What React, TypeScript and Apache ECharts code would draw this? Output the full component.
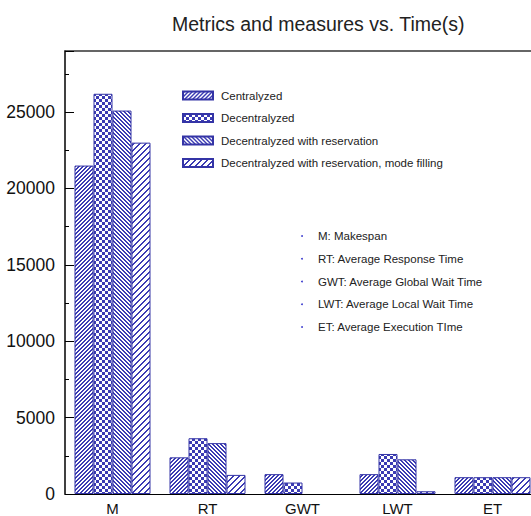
import React, { useEffect, useRef } from "react";
import * as echarts from "echarts";

const categories = ["M", "RT", "GWT", "LWT", "ET"];
const seriesNames = [
  "Centralyzed",
  "Decentralyzed",
  "Decentralyzed with reservation",
  "Decentralyzed with reservation, mode filling",
];
const centralized = [21500, 2400, 1300, 1300, 1100];
const decentralized = [26200, 3650, 750, 2620, 1100];
const reservation = [25100, 3330, 0, 2270, 1100];
const modeFilling = [23000, 1250, 0, 180, 1100];
const seriesValues = [centralized, decentralized, reservation, modeFilling];
const notes = [
  "M: Makespan",
  "RT: Average Response Time",
  "GWT: Average Global Wait Time",
  "LWT: Average Local Wait Time",
  "ET: Average Execution TIme",
];
const yMax = 29000;

const BLUE = "#3b3bb3";
const FONT = "'Liberation Sans', Arial, sans-serif";

function makePattern(kind: string) {
  const s = kind === "wide" || kind === "check" ? 6 : 4;
  const c = document.createElement("canvas");
  c.width = s;
  c.height = s;
  const ctx = c.getContext("2d")!;
  ctx.fillStyle = "#ffffff";
  ctx.fillRect(0, 0, s, s);
  ctx.fillStyle = BLUE;
  for (let x = 0; x < s; x++) {
    for (let y = 0; y < s; y++) {
      let on = false;
      if (kind === "fwd") on = (x + y) % 4 <= 1;
      else if (kind === "back") on = (x - y + 8) % 4 <= 1;
      else if (kind === "wide") on = (x + y) % 6 <= 1;
      else if (kind === "check") on = (Math.floor(x / 3) + Math.floor(y / 3)) % 2 === 0;
      if (on) ctx.fillRect(x, y, 1, 1);
    }
  }
  return {
    image: c.toDataURL(),
    repeat: "repeat",
    imageWidth: s,
    imageHeight: s,
  } as any;
}

export default function App() {
  const ref = useRef<HTMLDivElement>(null);
  useEffect(() => {
    if (!ref.current) return;
    const chart = echarts.init(ref.current, null, { renderer: "svg" });
    const kinds = ["fwd", "check", "back", "wide"];
    const patterns = kinds.map(makePattern);
    const noteRows = 22.75;
    const graphics: any[] = [];
    notes.forEach((n, i) => {
      const y = 236 + i * noteRows;
      graphics.push({
        type: "circle",
        shape: { cx: 302, cy: y, r: 0.9 },
        style: { fill: "#3333cc" },
      });
      graphics.push({
        type: "text",
        x: 318,
        y,
        style: {
          text: n,
          fontSize: 11.5,
          fontFamily: FONT,
          fill: "#222",
          verticalAlign: "middle",
        },
      });
    });
    const option: any = {
      animation: false,
      backgroundColor: "#ffffff",
      title: {
        text: "Metrics and measures vs. Time(s)",
        left: 167,
        top: 9,
        textStyle: { fontSize: 19.5, fontWeight: "normal", color: "#222", fontFamily: FONT },
      },
      legend: {
        orient: "vertical",
        left: 177,
        top: 84,
        itemWidth: 30,
        itemHeight: 8,
        itemGap: 9.5,
        icon: "rect",
        data: seriesNames,
        textStyle: { fontSize: 11.5, color: "#222", fontFamily: FONT, padding: [0, 0, 0, 3], lineHeight: 13 },
      },
      grid: { left: 65, top: 51, width: 475, height: 445 },
      xAxis: [
        {
          type: "category",
          data: categories,
          axisLine: { lineStyle: { color: "#000", width: 1 } },
          axisTick: { inside: true, length: 9, lineStyle: { color: "#000" } },
          axisLabel: { fontSize: 15, color: "#111", fontFamily: FONT, margin: 7 },
        },
        {
          type: "category",
          data: categories,
          position: "top",
          axisLine: { onZero: false, lineStyle: { color: "#333", width: 1.5 } },
          axisTick: { show: false },
          axisLabel: { show: false },
        },
      ],
      yAxis: [
        {
          type: "value",
          min: 0,
          max: yMax,
          interval: 5000,
          position: "left",
          axisLine: { show: true, lineStyle: { color: "#000", width: 1.5 } },
          axisTick: { show: true, inside: true, length: 9, lineStyle: { color: "#000" } },
          axisLabel: {
            fontSize: 17.5,
            color: "#111",
            fontFamily: FONT,
            margin: 10,
            formatter: (v: number) => (v % 5000 === 0 ? String(v) : ""),
          },
          splitLine: { show: false },
        },
        {
          type: "value",
          min: 0,
          max: yMax,
          interval: 2500,
          position: "left",
          axisLine: { show: false },
          axisTick: { show: true, inside: true, length: 4, lineStyle: { color: "#000" } },
          axisLabel: { show: false },
          splitLine: { show: false },
        },
      ],
      series: seriesNames.map((name, i) => ({
        name,
        type: "bar",
        data: seriesValues[i].map((v) => (v === 0 ? null : v)),
        barGap: "0%",
        barCategoryGap: "20%",
        itemStyle: { color: patterns[i], borderColor: "#3434a6", borderWidth: 1 },
      })),
      graphic: graphics,
    };
    chart.setOption(option);
    return () => chart.dispose();
  }, []);
  return (
    <div style={{ position: "fixed", left: 0, top: 0, width: 531, height: 516, overflow: "hidden" }}>
      <div ref={ref} style={{ width: 550, height: 516 }} />
    </div>
  );
}
